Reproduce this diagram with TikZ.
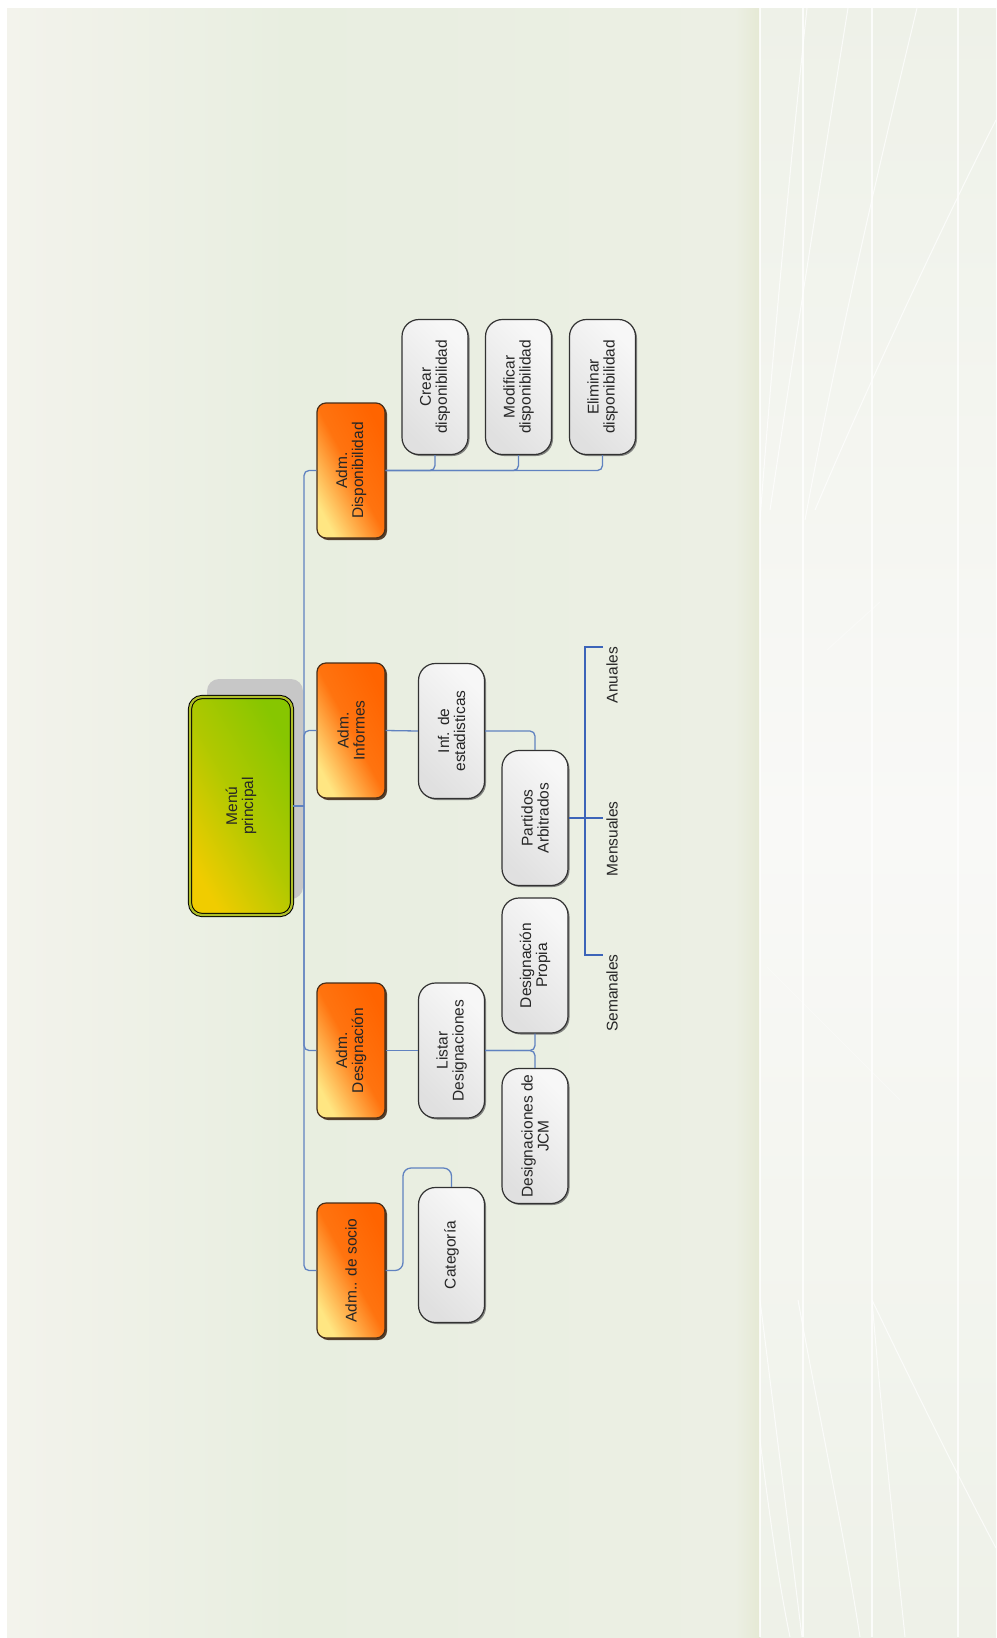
\documentclass[tikz,border=0pt]{standalone}
\usepackage{fontspec}
\setmainfont{Liberation Sans}
\usepackage{tikz}
\usepackage{xcolor}
\usetikzlibrary{shadows}

\definecolor{bgleft}{RGB}{243,243,236}
\definecolor{bggreen}{RGB}{232,238,224}
\definecolor{bgmid}{RGB}{236,239,228}
\definecolor{bgedge}{RGB}{229,233,212}
\definecolor{bgright}{RGB}{238,241,232}
\definecolor{bglight}{RGB}{249,249,247}
\definecolor{linkblue}{RGB}{96,130,192}
\definecolor{linkdark}{RGB}{60,100,185}
\definecolor{orgdark}{RGB}{255,100,0}
\definecolor{orglight}{RGB}{255,230,130}
\definecolor{menuyellow}{RGB}{240,204,0}
\definecolor{menugreen}{RGB}{135,198,0}
\definecolor{menuband}{RGB}{175,190,40}
\definecolor{boxedge}{RGB}{70,45,25}
\definecolor{grayedge}{RGB}{50,50,50}

\begin{document}
\begin{tikzpicture}[x=1pt,y=-1pt,
    every node/.style={font=\fontsize{15.5}{16}\selectfont, text=black!85, align=center, rotate=90},
    menubox/.style={draw=black, line width=1pt, double=menuband, double distance=2.2pt,
        rounded corners=12pt, minimum width=218pt, minimum height=102pt, inner sep=0pt,
        top color=menugreen, bottom color=menuyellow, middle color=menugreen!60!menuyellow,
        shading angle=-60},
    admbox/.style={draw=boxedge, line width=1.2pt, rounded corners=9pt, minimum width=135pt,
        minimum height=68pt, inner sep=0pt, top color=orgdark, bottom color=orglight,
        middle color=orgdark!88!orglight, shading angle=-62,
        drop shadow={shadow xshift=2pt, shadow yshift=-2pt, fill=boxedge, opacity=.9}},
    optbox/.style={draw=grayedge, line width=1.2pt, rounded corners=17pt, minimum width=135pt,
        minimum height=66pt, inner sep=0pt, top color=white!97!black, bottom color=black!12,
        shading angle=-45,
        drop shadow={shadow xshift=1.5pt, shadow yshift=-1.5pt, fill=black!60, opacity=.8}},
    lbl/.style={inner sep=1pt},
    link/.style={draw=linkblue, line width=1.3pt, rounded corners=5pt},
    bracket/.style={draw=linkdark, line width=1.8pt}]

    \useasboundingbox (0,0) rectangle (996,1638);
    % background
    \fill[white] (0,0) rectangle (996,1638);
    \shade[left color=bgleft, right color=bggreen] (7,8) rectangle (290,1637);
    \shade[left color=bggreen, right color=bgmid] (290,8) rectangle (736,1637);
    \shade[left color=bgmid, right color=bgedge] (735,8) rectangle (760,1637);
    \shade[top color=bgright, bottom color=bgright, middle color=bglight] (760,8) rectangle (996,1637);
    \foreach \xv in {760,803,872,958}
        \draw[white, opacity=.8, line width=1.5pt] (\xv,8) -- (\xv,1637);
    \begin{scope}[white, opacity=.75, line width=1pt]
        \draw (760,520) .. controls (775,320) and (795,120) .. (807,8);
        \draw (770,510) .. controls (800,310) and (830,120) .. (848,8);
        \draw (805,520) .. controls (840,330) and (890,120) .. (917,8);
        \draw (815,510) .. controls (870,380) and (950,210) .. (996,120);
        \draw (760,1300) .. controls (775,1420) and (790,1540) .. (802,1637);
        \draw (760,1440) .. controls (770,1520) and (780,1590) .. (790,1637);
        \draw (798,1300) .. controls (820,1420) and (845,1540) .. (860,1637);
        \draw (872,1300) .. controls (882,1420) and (895,1540) .. (905,1637);
        \draw (872,1300) .. controls (920,1400) and (960,1480) .. (996,1548);
    \end{scope}
    \draw[white, opacity=.35, line width=1pt] (827,650) -- (880,602);
    \draw[white, opacity=.35, line width=1pt] (767,967) -- (900,1100);

    % main menu
    \fill[black!22, rounded corners=12pt] (207,679) rectangle (303,899);
    \node[menubox] (menu) at (241,806) {Menú\\principal};

    % second level
    \node[admbox] (disp) at (351,470.5) {Adm.\\Disponibilidad};
    \node[admbox] (admInf) at (351,730.5) {Adm.\\Informes};
    \node[admbox] (admDes) at (351,1050.5) {Adm.\\Designación};
    \node[admbox] (socio) at (351,1270.5) {Adm.. de socio};

    % third level
    \node[optbox] (crear) at (435,387) {Crear\\disponibilidad};
    \node[optbox] (modif) at (518.5,387) {Modificar\\disponibilidad};
    \node[optbox] (elim) at (602.5,387) {Eliminar\\disponibilidad};
    \node[optbox] (estad) at (451.5,731) {Inf. de\\estadisticas};
    \node[optbox] (part) at (535,818) {Partidos\\Arbitrados};
    \node[optbox] (propia) at (535,965.5) {Designación\\Propia};
    \node[optbox] (listar) at (451.5,1050.5) {Listar\\Designaciones};
    \node[optbox] (jcm) at (535,1136) {Designaciones de\\JCM};
    \node[optbox] (categ) at (451.5,1255) {Categoría};

    % report periods
    \node[lbl] (anual) at (612,675) {Anuales};
    \node[lbl] (mensual) at (612,839) {Mensuales};
    \node[lbl] (seman) at (612,993) {Semanales};

    \coordinate (trunk) at (304,806);
    \coordinate (sbend) at (403,1168);
    \coordinate (brtop) at (603,647);
    \coordinate (brbot) at (603,955);

    % connectors
    \draw[link] (menu.south) -- (trunk);
    \draw[link] (trunk) |- (disp.north);
    \draw[link] (trunk) |- (admInf.north);
    \draw[link] (trunk) |- (admDes.north);
    \draw[link] (trunk) |- (socio.north);

    \draw[link] (disp.south) -| (crear.west);
    \draw[link] (disp.south) -| (modif.west);
    \draw[link] (disp.south) -| (elim.west);

    \draw[link] (admInf.south) -- (estad.north);
    \draw[link] (estad.south) -| (part.east);

    \draw[link] (admDes.south) -- (listar.north);
    \draw[link] (listar.south) -| (propia.west);
    \draw[link] (listar.south) -| (jcm.east);

    \draw[link, rounded corners=8pt] (socio.south) -| (sbend) -| (categ.east);

    \draw[bracket] (part.south) -- (part.south -| brtop);
    \draw[bracket] (brtop) -- ++(-18,0) |- (brbot);
\end{tikzpicture}
\end{document}
